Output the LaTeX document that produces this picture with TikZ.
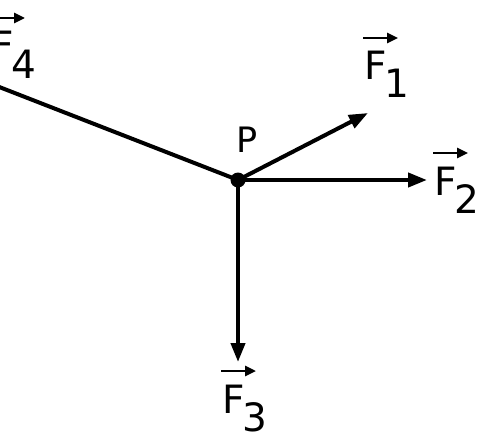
\documentclass[tikz,border=0pt]{standalone}
\usepackage{fontspec}
\setmainfont{DejaVu Sans}
\usetikzlibrary{arrows.meta}
\newcommand\forcetxt[1]{F\kern-2pt\raisebox{-18pt}{#1}}
\begin{document}
\begin{tikzpicture}[x=1pt, y=-1pt, line width=4pt,
        force/.style={-{Triangle[length=19pt, width=14pt]}},
        vecarr/.style={line width=2.6pt, -{Triangle[length=11pt, width=10pt]}},
        lbl/.style={inner sep=0pt, anchor=base west, font=\fontsize{39}{41}\selectfont}]
    \useasboundingbox (0, 0) rectangle (486, 433);
    \coordinate (P) at (238, 180);
    \coordinate (tip1) at (368, 113);
    \coordinate (tip2) at (427, 180);
    \coordinate (tip3) at (238, 362);
    \coordinate (tip4) at (-30, 75.6);
    \draw[force] (P) -- (tip1);
    \draw[force] (P) -- (tip2);
    \draw[force] (P) -- (tip3);
    \draw (P) -- (tip4);
    \fill (P) circle (7.5);
    \node[lbl, font=\fontsize{35}{37}\selectfont] (plbl) at (234, 152) {P};
    \node[lbl] (f1) at (362, 80) {\forcetxt{1}};
    \node[lbl] (f2) at (432, 195) {\forcetxt{2}};
    \node[lbl] (f3) at (220, 413) {\forcetxt{3}};
    \node[lbl] (f4) at (-11, 60) {\forcetxt{4}};
    \foreach \f in {f1, f2, f3, f4}
        \draw[vecarr] ([shift={(1, -42)}]\f.base west) -- ++(35, 0);
\end{tikzpicture}
\end{document}
